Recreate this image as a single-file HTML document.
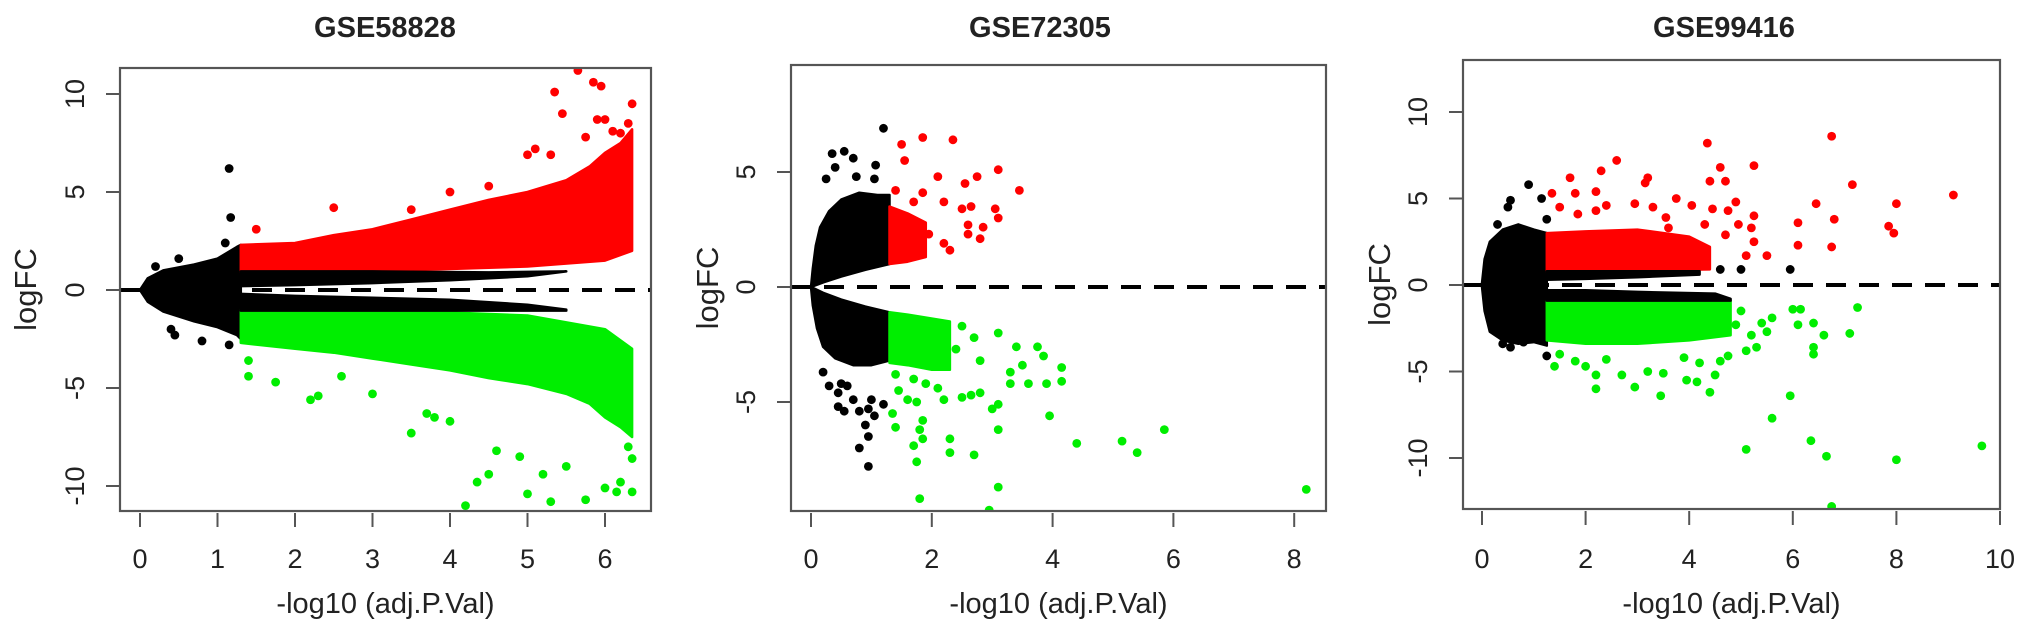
<!DOCTYPE html>
<html><head><meta charset="utf-8">
<style>
html,body{margin:0;padding:0;background:#fff;}
svg{display:block;}
text{font-family:"Liberation Sans",Arial,sans-serif;fill:#222;}
</style></head>
<body>
<svg id="chart" width="2031" height="633" viewBox="0 0 2031 633" xmlns="http://www.w3.org/2000/svg"></svg>
<script>
// ---------- Panel 1: GSE58828 ----------
const p1Title = "GSE58828";
const p1XTicks = [0,1,2,3,4,5,6];
const p1YTicks = [-10,-5,0,5,10];
const p1BlackCloudUpper = [[0,0],[0.05,0.3],[0.1,0.6],[0.3,1],[0.7,1.3],[1.0,1.6],[1.25,2.2],[1.3,2.3]];
const p1BlackCloudLower = [[0,0],[0.05,-0.3],[0.1,-0.6],[0.3,-1.1],[0.7,-1.6],[1.0,-1.9],[1.25,-2.3],[1.3,-2.5]];
const p1BandUpTop = [[1.3,0.95],[3,0.95],[4.5,0.9],[5.5,0.95]];
const p1BandUpBot = [[1.3,0.2],[2,0.25],[3,0.35],[4,0.5],[5,0.7],[5.5,0.95]];
const p1BandDnTop = [[1.3,-0.2],[2,-0.3],[3,-0.4],[4,-0.5],[5,-0.75],[5.5,-1.0]];
const p1BandDnBot = [[1.3,-1.05],[5.5,-1.05]];
const p1RedUpper = [[1.3,2.3],[2,2.4],[2.5,2.8],[3,3.1],[3.5,3.6],[4,4.1],[4.5,4.6],[5,5],[5.5,5.6],[5.8,6.3],[6,7],[6.2,7.5],[6.35,8.2]];
const p1RedLower = [[1.3,0.9],[3,0.95],[5,1.2],[6,1.5],[6.35,2]];
const p1GreenUpper = [[1.3,-1],[3,-1],[5,-1.3],[6,-2],[6.35,-3]];
const p1GreenLower = [[1.3,-2.7],[2,-3],[2.5,-3.2],[3,-3.5],[3.5,-3.8],[4,-4.1],[4.5,-4.5],[5,-4.8],[5.5,-5.3],[5.8,-5.8],[6,-6.5],[6.2,-7],[6.35,-7.5]];
const p1BlackPts = [[1.15,6.2],[1.17,3.7],[0.2,1.2],[0.5,1.6],[1.1,2.4],[0.4,-2],[0.45,-2.3],[0.8,-2.6],[1.15,-2.8]];
const p1RedPts = [[5.65,11.2],[5.35,10.1],[5.85,10.6],[5.95,10.4],[5.45,9],[6.35,9.5],[5.9,8.7],[6.0,8.7],[6.3,8.5],[6.1,8.1],[6.2,8],[5.75,7.8],[5.1,7.2],[5.0,6.9],[5.3,6.9],[2.5,4.2],[1.5,3.1],[3.5,4.1],[4.0,5.0],[4.5,5.3]];
const p1GreenPts = [[1.4,-4.4],[1.75,-4.7],[2.2,-5.6],[2.3,-5.4],[3.5,-7.3],[4.35,-9.8],[4.5,-9.4],[4.2,-11],[5,-10.4],[5.3,-10.8],[5.75,-10.7],[6.0,-10.1],[6.15,-10.3],[6.35,-10.3],[6.3,-8],[5.5,-9],[6.2,-9.8],[5.2,-9.4],[4.9,-8.5],[4.6,-8.2],[3.8,-6.5],[4.0,-6.7],[3.7,-6.3],[6.2,-6.5],[6.35,-8.6],[1.4,-3.6],[2.6,-4.4],[3.0,-5.3]];

// ---------- Panel 2: GSE72305 ----------
const p2Title = "GSE72305";
const p2XTicks = [0,2,4,6,8];
const p2YTicks = [-5,0,5];
const p2BlackUpOuter = [[0,0],[0.03,0.8],[0.08,1.8],[0.15,2.6],[0.3,3.3],[0.5,3.8],[0.8,4.1],[1.1,4],[1.3,4]];
const p2BlackUpInner = [[0,0],[0.2,0.2],[0.5,0.45],[0.9,0.75],[1.3,1.0]];
const p2BlackDnInner = [[0,0],[0.2,-0.25],[0.5,-0.55],[0.9,-0.85],[1.3,-1.1]];
const p2BlackDnOuter = [[0,0],[0.03,-0.8],[0.1,-1.8],[0.2,-2.6],[0.4,-3.1],[0.7,-3.4],[1.0,-3.4],[1.3,-3.2]];
const p2RedUpper = [[1.3,3.5],[1.6,3.2],[1.9,2.8]];
const p2RedLower = [[1.3,1],[1.6,1.1],[1.9,1.3]];
const p2GreenUpper = [[1.3,-1.1],[1.6,-1.2],[2.3,-1.5]];
const p2GreenLower = [[1.3,-3.3],[1.6,-3.4],[2.0,-3.6],[2.3,-3.6]];
const p2BlackPts = [[1.2,6.9],[0.35,5.8],[0.55,5.9],[0.7,5.6],[0.4,5.2],[1.07,5.3],[0.25,4.7],[0.75,4.8],[1.05,4.7],[0.2,-3.7],[0.3,-4.3],[0.45,-4.6],[0.5,-4.2],[0.6,-4.3],[0.7,-4.9],[0.8,-5.4],[0.45,-5.2],[0.55,-5.4],[0.95,-5.3],[1.0,-4.9],[1.2,-5.1],[1.05,-5.6],[0.9,-6],[0.95,-6.5],[0.8,-7],[0.95,-7.8]];
const p2RedPts = [[1.5,6.2],[1.85,6.5],[2.35,6.4],[1.55,5.5],[2.1,4.8],[2.55,4.5],[2.75,4.8],[3.1,5.1],[3.45,4.2],[2.2,3.7],[1.85,4.1],[2.5,3.4],[2.65,3.5],[3.05,3.4],[3.1,3.0],[2.6,2.7],[2.85,2.6],[2.6,2.3],[2.8,2.1],[2.2,1.9],[2.3,1.6],[1.95,2.3],[1.4,4.2],[1.7,3.7]];
const p2GreenPts = [[1.4,-3.8],[1.7,-4],[1.9,-4.2],[2.1,-4.4],[1.45,-4.5],[1.6,-4.9],[1.75,-5],[2.2,-4.9],[2.5,-4.8],[2.8,-4.6],[2.65,-4.7],[3.0,-5.3],[3.1,-5.1],[1.35,-5.5],[1.4,-6.1],[1.85,-5.8],[1.8,-6.2],[1.85,-6.6],[1.7,-6.9],[1.75,-7.6],[2.3,-6.6],[2.3,-7.2],[2.7,-7.3],[3.1,-6.2],[3.95,-5.6],[3.3,-4.2],[3.6,-4.2],[3.9,-4.2],[4.15,-3.5],[4.15,-4.1],[3.5,-3.4],[3.75,-2.6],[3.85,-3.0],[3.4,-2.6],[3.1,-2],[4.4,-6.8],[5.15,-6.7],[5.4,-7.2],[5.85,-6.2],[8.2,-8.8],[3.1,-8.7],[1.8,-9.2],[2.95,-9.7],[2.7,-2.2],[2.5,-1.7],[2.8,-3.2],[3.3,-3.7],[2.4,-2.7],[2.2,-3.2],[2.2,-2.3]];

// ---------- Panel 3: GSE99416 ----------
const p3Title = "GSE99416";
const p3XTicks = [0,2,4,6,8,10];
const p3YTicks = [-10,-5,0,5,10];
const p3BlackCloudUpper = [[0,0.1],[0.05,1.5],[0.15,2.5],[0.4,3.2],[0.7,3.5],[1.0,3.2],[1.25,3.0]];
const p3BlackCloudLower = [[0,-0.1],[0.05,-1.5],[0.15,-2.7],[0.4,-3.2],[0.7,-3.4],[1.0,-3.3],[1.25,-3.5]];
const p3RedUpper = [[1.25,3.0],[2,3.1],[3,3.2],[4,2.8],[4.4,2.2]];
const p3RedLower = [[1.25,0.75],[4.4,0.9]];
const p3BandUpTop = [[1.25,0.8],[4.2,0.8]];
const p3BandUpBot = [[1.25,0.3],[2,0.35],[3,0.45],[4.2,0.6]];
const p3BandDnTop = [[1.25,-0.3],[2,-0.3],[3,-0.4],[4.5,-0.5],[4.8,-0.8]];
const p3BandDnBot = [[1.25,-0.9],[4.8,-0.9]];
const p3GreenUpper = [[1.25,-0.9],[4.8,-0.9]];
const p3GreenLower = [[1.25,-3.2],[2,-3.4],[3,-3.4],[4,-3.2],[4.8,-2.9]];
const p3BlackPts = [[0.9,5.8],[1.15,5.0],[0.5,4.5],[0.55,4.9],[0.3,3.5],[1.25,3.8],[0.55,-3.6],[0.4,-3.4],[0.8,-3.3],[1.25,-4.1],[5.0,0.9],[5.95,0.9],[4.6,0.9]];
const p3RedPts = [[1.35,5.3],[1.7,6.2],[2.3,6.6],[2.6,7.2],[3.2,6.2],[3.15,5.9],[1.5,4.5],[1.8,5.3],[2.2,5.4],[1.85,4.1],[2.2,4.3],[2.4,4.6],[2.95,4.7],[3.3,4.5],[3.55,3.9],[3.75,5.0],[4.05,4.6],[4.35,8.2],[4.6,6.8],[4.4,6.0],[4.7,6.0],[5.25,6.9],[4.9,4.8],[4.45,4.4],[4.75,4.3],[4.7,2.9],[5.25,4.0],[4.95,3.5],[5.2,3.3],[5.25,2.5],[5.5,1.7],[5.1,1.7],[6.1,3.6],[6.1,2.3],[6.45,4.7],[6.75,8.6],[6.8,3.8],[6.75,2.2],[7.15,5.8],[7.85,3.4],[7.95,3.0],[8.0,4.7],[9.1,5.2],[4.3,3.5],[3.6,3.3]];
const p3GreenPts = [[1.4,-4.7],[1.5,-4.0],[1.8,-4.4],[2.0,-4.7],[2.2,-5.2],[2.2,-6.0],[2.4,-4.3],[2.7,-5.2],[2.95,-5.9],[3.2,-5.0],[3.45,-6.4],[3.5,-5.1],[3.9,-4.2],[3.95,-5.5],[4.15,-5.6],[4.2,-4.5],[4.4,-6.2],[4.5,-5.2],[4.6,-4.4],[4.75,-4.1],[5.1,-3.8],[5.3,-3.6],[5.5,-2.7],[5.4,-2.2],[5.0,-1.5],[5.6,-1.9],[6.0,-1.4],[6.15,-1.4],[6.1,-2.3],[6.4,-2.2],[6.6,-2.9],[6.4,-3.6],[6.4,-4],[7.1,-2.8],[7.25,-1.3],[5.95,-6.4],[5.6,-7.7],[5.1,-9.5],[6.35,-9.0],[6.65,-9.9],[6.75,-12.8],[8.0,-10.1],[9.65,-9.3],[5.2,-2.9],[4.9,-2.3]];

const NS = "http://www.w3.org/2000/svg";
const svg = document.getElementById("chart");
const RED = "#ff0000", GREEN = "#00ee00", BLACK = "#000";

function mk(tag, attrs, parent) {
  const e = document.createElementNS(NS, tag);
  for (const k in attrs) e.setAttribute(k, attrs[k]);
  parent.appendChild(e);
  return e;
}

function drawPanel(id, cfg, title, xTicks, yTicks, regions, points) {
  const g = mk("g", {}, svg);
  
  
  const sx = v => cfg.x0 + cfg.kx * v;
  const sy = v => cfg.y0 - cfg.ky * v;

  const clip = mk("clipPath", {id: id + "-clip"}, g);
  mk("rect", {x: cfg.left, y: cfg.top, width: cfg.right - cfg.left, height: cfg.bottom - cfg.top}, clip);
  const plot = mk("g", {"clip-path": "url(#" + id + "-clip)"}, g);
  
  

  regions.forEach(r => {
    const pts = r.upper.map(p => sx(p[0]).toFixed(1) + "," + sy(p[1]).toFixed(1))
      .concat(r.lower.slice().reverse().map(p => sx(p[0]).toFixed(1) + "," + sy(p[1]).toFixed(1)));
    const poly = mk("polygon", {points: pts.join(" "), fill: r.color, stroke: r.color, "stroke-width": 2.5, "stroke-linejoin": "round"}, plot);
    
    
  });
  points.forEach(set => {
    set.data.forEach(p => {
      const c = mk("circle", {cx: sx(p[0]), cy: sy(p[1]), r: 4.4, fill: set.color}, plot);
      
      
    });
  });
  const dash = mk("line", {x1: cfg.left, x2: cfg.right, y1: sy(0), y2: sy(0), stroke: "#000", "stroke-width": 4, "stroke-dasharray": "20 13"}, plot);
  
  

  const box = mk("rect", {x: cfg.left, y: cfg.top, width: cfg.right - cfg.left, height: cfg.bottom - cfg.top, fill: "none", stroke: "#555", "stroke-width": 2.2}, g);
  
  

  xTicks.forEach(t => {
    const x = sx(t);
    const tk = mk("line", {x1: x, x2: x, y1: cfg.bottom + 2, y2: cfg.bottom + 16, stroke: "#555", "stroke-width": 2}, g);
    
    
    const tl = mk("text", {x: x, y: 568, "text-anchor": "middle", "font-size": 27}, g);
    tl.textContent = t;
    
    
  });
  yTicks.forEach(t => {
    const y = sy(t);
    const tk = mk("line", {x1: cfg.left - 14, x2: cfg.left - 1, y1: y, y2: y, stroke: "#555", "stroke-width": 2}, g);
    
    
    const lx = cfg.left - 36;
    const tl = mk("text", {x: lx, y: y, "text-anchor": "middle", "font-size": 27, transform: "rotate(-90 " + lx + " " + y + ")"}, g);
    tl.textContent = t;
    
    
  });
  const tt = mk("text", {x: cfg.titleX, y: 37, "text-anchor": "middle", "font-size": 29, "font-weight": "bold"}, g);
  tt.textContent = title;
  
  
  const xt = mk("text", {x: (cfg.left + cfg.right) / 2, y: 613, "text-anchor": "middle", "font-size": 29}, g);
  xt.textContent = "-log10 (adj.P.Val)";
  
  
  const ly = (cfg.top + cfg.bottom) / 2;
  const yt = mk("text", {x: cfg.yTitleX, y: ly, "text-anchor": "middle", "font-size": 31, transform: "rotate(-90 " + cfg.yTitleX + " " + ly + ")"}, g);
  yt.textContent = "logFC";
  
  
}

drawPanel("gse58828",
  {left: 120, right: 651, top: 68, bottom: 511, x0: 140, kx: 77.5, y0: 290, ky: 19.6, titleX: 385, yTitleX: 36},
  p1Title, p1XTicks, p1YTicks,
  [
    {name: "black-cloud", color: BLACK, upper: p1BlackCloudUpper, lower: p1BlackCloudLower},
    {name: "red-cloud", color: RED, upper: p1RedUpper, lower: p1RedLower},
    {name: "green-cloud", color: GREEN, upper: p1GreenUpper, lower: p1GreenLower},
    {name: "black-band-up", color: BLACK, upper: p1BandUpTop, lower: p1BandUpBot},
    {name: "black-band-down", color: BLACK, upper: p1BandDnTop, lower: p1BandDnBot}
  ],
  [{name: "black", color: BLACK, data: p1BlackPts}, {name: "red", color: RED, data: p1RedPts}, {name: "green", color: GREEN, data: p1GreenPts}]
);

drawPanel("gse72305",
  {left: 791, right: 1326, top: 65, bottom: 511, x0: 811, kx: 60.4, y0: 287, ky: 23, titleX: 1040, yTitleX: 718},
  p2Title, p2XTicks, p2YTicks,
  [
    {name: "black-cloud-up", color: BLACK, upper: p2BlackUpOuter, lower: p2BlackUpInner},
    {name: "black-cloud-down", color: BLACK, upper: p2BlackDnInner, lower: p2BlackDnOuter},
    {name: "red-cloud", color: RED, upper: p2RedUpper, lower: p2RedLower},
    {name: "green-cloud", color: GREEN, upper: p2GreenUpper, lower: p2GreenLower}
  ],
  [{name: "black", color: BLACK, data: p2BlackPts}, {name: "red", color: RED, data: p2RedPts}, {name: "green", color: GREEN, data: p2GreenPts}]
);

drawPanel("gse99416",
  {left: 1463, right: 2000, top: 60, bottom: 509, x0: 1482, kx: 51.8, y0: 285, ky: 17.3, titleX: 1724, yTitleX: 1390},
  p3Title, p3XTicks, p3YTicks,
  [
    {name: "black-cloud", color: BLACK, upper: p3BlackCloudUpper, lower: p3BlackCloudLower},
    {name: "red-cloud", color: RED, upper: p3RedUpper, lower: p3RedLower},
    {name: "green-cloud", color: GREEN, upper: p3GreenUpper, lower: p3GreenLower},
    {name: "black-band-up", color: BLACK, upper: p3BandUpTop, lower: p3BandUpBot},
    {name: "black-band-down", color: BLACK, upper: p3BandDnTop, lower: p3BandDnBot}
  ],
  [{name: "black", color: BLACK, data: p3BlackPts}, {name: "red", color: RED, data: p3RedPts}, {name: "green", color: GREEN, data: p3GreenPts}]
);
</script>
</body></html>
